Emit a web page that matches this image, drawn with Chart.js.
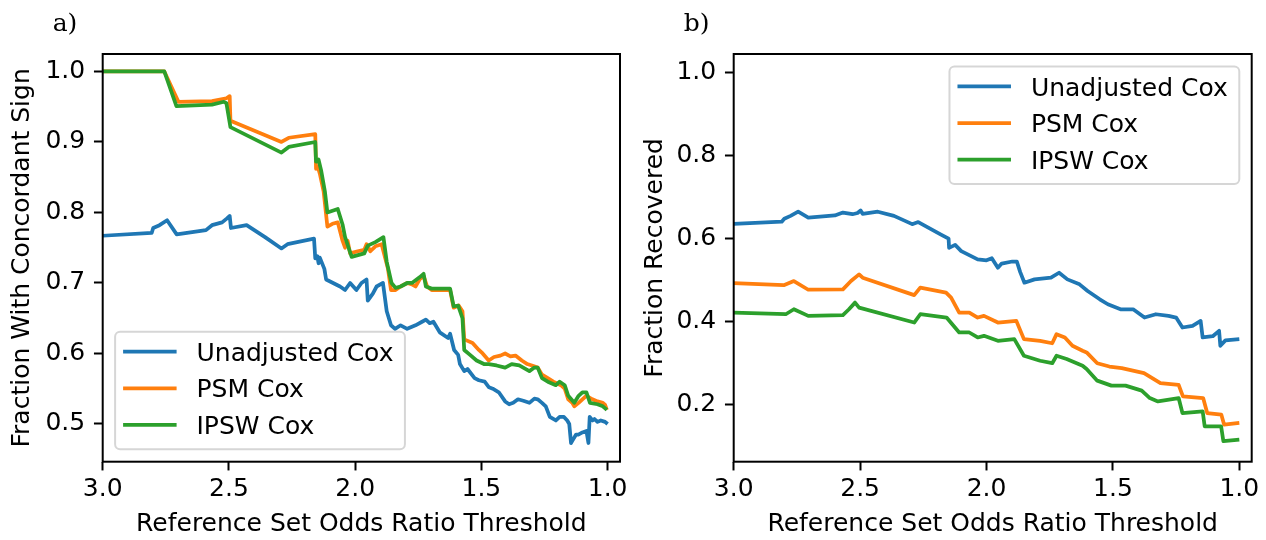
<!DOCTYPE html>
<html><head><meta charset="utf-8">
<script src="https://cdn.jsdelivr.net/npm/chart.js@4"></script>
<style>
html,body{margin:0;padding:0;background:#fff;width:1266px;height:540px;overflow:hidden}
canvas{position:absolute;top:0}
#c1{left:0}
#c2{left:640px}
</style></head><body>
<canvas id="c1" width="640" height="540"></canvas>
<canvas id="c2" width="626" height="540"></canvas>
<script>
// ---------- data ----------
const seriesNames = ['Unadjusted Cox', 'PSM Cox', 'IPSW Cox'];
const xTicks = [3.0, 2.5, 2.0, 1.5, 1.0];
const xTickLabels = ['3.0', '2.5', '2.0', '1.5', '1.0'];
const yTicksA = [0.5, 0.6, 0.7, 0.8, 0.9, 1.0];
const yTickLabelsA = ['0.5', '0.6', '0.7', '0.8', '0.9', '1.0'];
const yTicksB = [0.2, 0.4, 0.6, 0.8, 1.0];
const yTickLabelsB = ['0.2', '0.4', '0.6', '0.8', '1.0'];

// panel a) Fraction With Concordant Sign
const aUnadjX = [3.0,2.806,2.80,2.775,2.745,2.707,2.591,2.567,2.527,2.51,2.497,2.492,2.43,2.357,2.292,2.268,2.163,2.158,2.15,2.145,2.14,2.122,2.115,2.06,2.04,2.02,1.995,1.975,1.955,1.95,1.93,1.915,1.89,1.875,1.858,1.842,1.82,1.794,1.761,1.735,1.72,1.705,1.69,1.665,1.632,1.624,1.608,1.592,1.585,1.568,1.555,1.527,1.51,1.487,1.47,1.455,1.431,1.406,1.39,1.374,1.355,1.334,1.31,1.29,1.277,1.26,1.245,1.229,1.205,1.19,1.173,1.16,1.152,1.145,1.14,1.125,1.116,1.1,1.084,1.076,1.071,1.06,1.052,1.04,1.027,1.01,1.0];
const aUnadjY = [0.767,0.771,0.778,0.782,0.789,0.769,0.775,0.782,0.786,0.791,0.795,0.778,0.782,0.765,0.749,0.755,0.763,0.735,0.738,0.728,0.736,0.72,0.705,0.695,0.69,0.70,0.69,0.70,0.705,0.675,0.685,0.695,0.70,0.66,0.64,0.635,0.64,0.635,0.64,0.645,0.648,0.643,0.645,0.63,0.622,0.628,0.605,0.598,0.585,0.575,0.578,0.565,0.562,0.56,0.552,0.55,0.545,0.532,0.528,0.53,0.535,0.533,0.53,0.536,0.535,0.53,0.525,0.51,0.505,0.51,0.51,0.505,0.50,0.473,0.476,0.485,0.485,0.488,0.49,0.473,0.51,0.505,0.507,0.503,0.505,0.503,0.50];

const aPsmX = [3.0,2.756,2.70,2.567,2.51,2.497,2.494,2.292,2.263,2.158,2.155,2.148,2.14,2.125,2.11,2.09,2.069,2.05,2.04,2.03,2.02,1.99,1.964,1.955,1.94,1.92,1.895,1.888,1.87,1.858,1.84,1.82,1.794,1.775,1.761,1.745,1.729,1.715,1.697,1.65,1.624,1.61,1.59,1.575,1.568,1.535,1.51,1.495,1.471,1.45,1.425,1.406,1.385,1.365,1.34,1.318,1.30,1.277,1.26,1.237,1.215,1.185,1.17,1.156,1.14,1.132,1.115,1.10,1.084,1.06,1.04,1.019,1.01,1.003];
const aPsmY = [1.0,1.0,0.957,0.958,0.962,0.965,0.93,0.90,0.906,0.911,0.862,0.865,0.855,0.83,0.78,0.784,0.786,0.76,0.75,0.76,0.742,0.745,0.747,0.755,0.745,0.752,0.755,0.745,0.72,0.69,0.69,0.695,0.70,0.698,0.695,0.705,0.71,0.695,0.69,0.69,0.69,0.665,0.668,0.66,0.62,0.615,0.605,0.60,0.59,0.595,0.597,0.60,0.596,0.597,0.59,0.585,0.583,0.58,0.57,0.565,0.56,0.555,0.55,0.535,0.53,0.525,0.53,0.535,0.54,0.535,0.532,0.53,0.527,0.52];

const aIpswX = [3.0,2.756,2.708,2.567,2.52,2.51,2.494,2.292,2.263,2.158,2.155,2.145,2.135,2.12,2.11,2.069,2.05,2.04,2.026,2.014,1.964,1.95,1.92,1.888,1.875,1.856,1.84,1.82,1.794,1.775,1.745,1.729,1.72,1.697,1.624,1.61,1.592,1.575,1.568,1.545,1.519,1.49,1.471,1.44,1.406,1.38,1.35,1.31,1.29,1.277,1.26,1.237,1.205,1.19,1.17,1.156,1.132,1.115,1.10,1.084,1.07,1.04,1.019,1.003];
const aIpswY = [1.0,1.0,0.951,0.953,0.957,0.955,0.921,0.885,0.893,0.90,0.872,0.875,0.86,0.83,0.80,0.805,0.783,0.765,0.75,0.737,0.742,0.753,0.758,0.765,0.73,0.70,0.693,0.695,0.70,0.70,0.708,0.713,0.695,0.692,0.692,0.667,0.668,0.65,0.605,0.598,0.59,0.585,0.585,0.583,0.58,0.585,0.583,0.575,0.58,0.58,0.565,0.56,0.555,0.56,0.555,0.54,0.53,0.54,0.545,0.545,0.53,0.528,0.525,0.52];

// panel b) Fraction Recovered
const bUnadjX = [3.0,2.81,2.80,2.775,2.745,2.705,2.6,2.568,2.53,2.51,2.498,2.49,2.43,2.366,2.294,2.27,2.18,2.15,2.148,2.124,2.10,2.035,2.0,1.979,1.955,1.94,1.898,1.88,1.867,1.85,1.81,1.745,1.713,1.68,1.632,1.60,1.552,1.52,1.47,1.42,1.375,1.33,1.28,1.25,1.225,1.185,1.153,1.145,1.105,1.08,1.075,1.055,1.0];
const bUnadjY = [0.636,0.641,0.648,0.655,0.665,0.651,0.656,0.663,0.659,0.662,0.668,0.660,0.665,0.655,0.635,0.640,0.61,0.60,0.578,0.585,0.57,0.55,0.548,0.553,0.53,0.54,0.545,0.545,0.52,0.494,0.502,0.506,0.518,0.502,0.49,0.474,0.454,0.442,0.43,0.43,0.41,0.418,0.414,0.41,0.386,0.39,0.402,0.362,0.365,0.378,0.342,0.355,0.358];

const bPsmX = [3.0,2.802,2.762,2.705,2.568,2.536,2.504,2.49,2.286,2.262,2.16,2.14,2.108,2.068,2.035,2.01,1.955,1.882,1.852,1.788,1.74,1.723,1.69,1.66,1.62,1.604,1.562,1.514,1.465,1.377,1.312,1.24,1.223,1.143,1.127,1.071,1.06,1.0];
const bPsmY = [0.493,0.488,0.498,0.477,0.478,0.498,0.514,0.506,0.464,0.482,0.47,0.458,0.422,0.422,0.41,0.414,0.398,0.402,0.358,0.354,0.348,0.37,0.362,0.342,0.33,0.326,0.30,0.292,0.288,0.276,0.252,0.248,0.22,0.216,0.18,0.176,0.152,0.156];

const bIpswX = [3.0,2.794,2.762,2.705,2.568,2.544,2.52,2.504,2.286,2.262,2.158,2.108,2.068,2.035,2.01,1.955,1.89,1.852,1.788,1.74,1.723,1.683,1.62,1.604,1.562,1.506,1.45,1.386,1.354,1.322,1.24,1.225,1.145,1.137,1.072,1.063,1.0];
const bIpswY = [0.422,0.418,0.43,0.414,0.416,0.43,0.446,0.434,0.398,0.418,0.41,0.374,0.374,0.362,0.366,0.354,0.358,0.318,0.306,0.30,0.318,0.31,0.294,0.286,0.258,0.246,0.246,0.234,0.216,0.208,0.216,0.18,0.184,0.148,0.148,0.112,0.116];

// ---------- chart ----------
const colors = ['#1f77b4', '#ff7f0e', '#2ca02c'];
const FONT = '"DejaVu Sans", sans-serif';
Chart.defaults.color = '#000';
Chart.defaults.font.family = FONT;

function pts(xs, ys) { return xs.map((x, i) => ({ x: x, y: ys[i] })); }

const decor = {
  id: 'decor',
  afterDatasetsDraw(chart) {
    const { ctx, chartArea: a } = chart;
    ctx.save();
    ctx.strokeStyle = '#000';
    ctx.lineWidth = 2;
    ctx.strokeRect(a.left, a.top, a.right - a.left, a.bottom - a.top);
    ctx.restore();
  },
  afterDraw(chart, args, opts) {
    const { ctx, chartArea: a } = chart;
    ctx.save();
    // panel label
    ctx.fillStyle = '#000';
    ctx.font = '25px "DejaVu Serif", serif';
    ctx.textBaseline = 'alphabetic';
    ctx.textAlign = 'left';
    ctx.fillText(opts.panel, a.left - 50, 31);
    // legend
    ctx.font = '25px ' + FONT;
    const names = chart.data.datasets.map(d => d.label);
    const tw = Math.max(...names.map(n => ctx.measureText(n).width));
    const w = 81.4 + tw + 11.5, h = 117.6, pad = 12.4;
    const x0 = opts.loc === 'lower left' ? a.left + pad : a.right - pad - w;
    const y0 = opts.loc === 'lower left' ? a.bottom - pad - h : a.top + pad;
    ctx.beginPath();
    ctx.roundRect(x0, y0, w, h, 5);
    ctx.fillStyle = 'rgba(255,255,255,0.8)';
    ctx.fill();
    ctx.strokeStyle = 'rgba(204,204,204,0.8)';
    ctx.lineWidth = 2;
    ctx.stroke();
    chart.data.datasets.forEach((d, i) => {
      const ry = y0 + 20 + i * 36.6;
      ctx.beginPath();
      ctx.moveTo(x0 + 8, ry);
      ctx.lineTo(x0 + 61.5, ry);
      ctx.strokeStyle = d.borderColor;
      ctx.lineWidth = 3.75;
      ctx.stroke();
      ctx.fillStyle = '#000';
      ctx.fillText(d.label, x0 + 81.4, ry + 9.1);
    });
    ctx.restore();
  }
};

function makeChart(id, sets, yTicks, yLabels, yMin, yMax, yTitle, yTitlePad, yWidth, padRight, panel, loc) {
  const datasets = sets.map((s, i) => ({
    label: seriesNames[i],
    data: pts(s[0], s[1]),
    borderColor: colors[i],
    backgroundColor: colors[i],
    borderWidth: 3.75,
    pointRadius: 0,
    tension: 0,
    fill: false,
    borderJoinStyle: 'round',
    order: 3 - i
  }));
  const tickGrid = { display: true, drawOnChartArea: false, drawTicks: true, tickLength: 8.75, tickWidth: 2, tickColor: '#000' };
  return new Chart(document.getElementById(id), {
    type: 'line',
    data: { datasets },
    options: {
      responsive: false,
      animation: false,
      events: [],
      layout: { padding: { left: 0, right: padRight, top: 54, bottom: 0 } },
      plugins: { legend: { display: false }, tooltip: { enabled: false }, decor: { panel, loc } },
      scales: {
        x: {
          type: 'linear', reverse: true, min: 0.951, max: 3.0,
          grid: tickGrid, border: { display: false },
          afterBuildTicks: s => { s.ticks = xTicks.map(v => ({ value: v })); },
          afterFit: s => { s.height = 78.3; },
          ticks: { autoSkip: false, maxRotation: 0, padding: 4, font: { size: 25, family: FONT, lineHeight: 1.2 },
                   callback: (v, i) => xTickLabels[i] },
          title: { display: true, text: 'Reference Set Odds Ratio Threshold', font: { size: 25, family: FONT, lineHeight: 1.2 }, padding: { top: 0, bottom: 1 } }
        },
        y: {
          type: 'linear', min: yMin, max: yMax,
          grid: tickGrid, border: { display: false },
          afterBuildTicks: s => { s.ticks = yTicks.map(v => ({ value: v })); },
          afterFit: s => { s.width = yWidth; },
          ticks: { autoSkip: false, padding: 8.75, font: { size: 25, family: FONT, lineHeight: 1.2 },
                   callback: (v, i) => yLabels[i] },
          title: { display: true, text: yTitle, font: { size: 25, family: FONT, lineHeight: 1.2 }, padding: { top: yTitlePad, bottom: 0 } }
        }
      }
    },
    plugins: [decor]
  });
}

makeChart('c1', [[aUnadjX, aUnadjY], [aPsmX, aPsmY], [aIpswX, aIpswY]],
  yTicksA, yTickLabelsA, 0.4465, 1.0248, 'Fraction With Concordant Sign', 7, 102.7, 20, 'a)', 'lower left');
makeChart('c2', [[bUnadjX, bUnadjY], [bPsmX, bPsmY], [bIpswX, bIpswY]],
  yTicksB, yTickLabelsB, 0.0627, 1.045, 'Fraction Recovered', 0, 93.7, 14.3, 'b)', 'upper right');
</script>
</body></html>
